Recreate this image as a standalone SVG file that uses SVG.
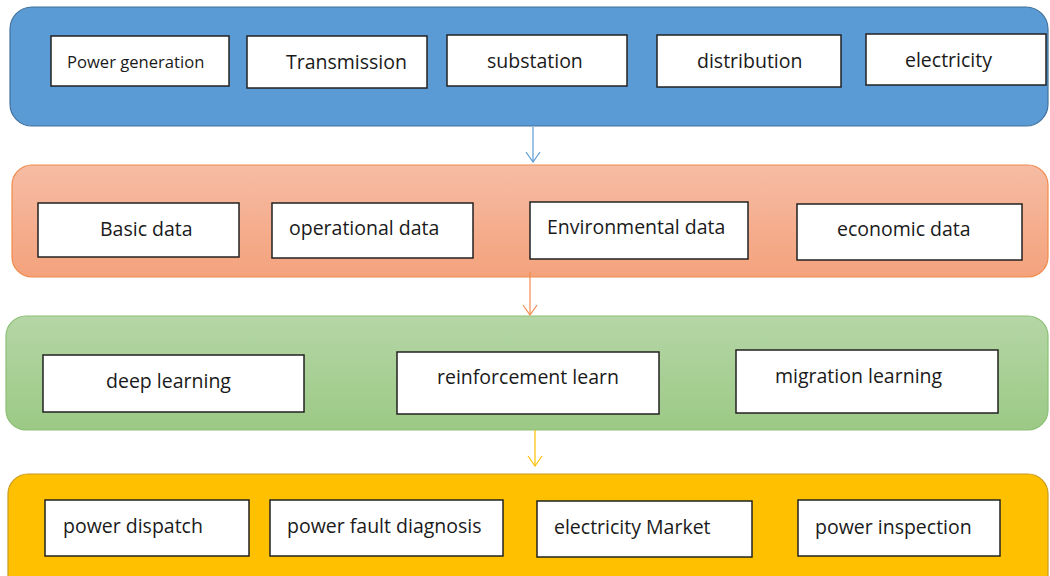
<svg xmlns="http://www.w3.org/2000/svg" width="1050" height="576" viewBox="0 0 1050 576">
<defs>
<linearGradient id="gOrange" x1="0" y1="0" x2="0" y2="1"><stop offset="0" stop-color="#f6bca4"/><stop offset="1" stop-color="#f4a27c"/></linearGradient>
<linearGradient id="gGreen" x1="0" y1="0" x2="0" y2="1"><stop offset="0" stop-color="#b5d6a6"/><stop offset="1" stop-color="#9cc985"/></linearGradient>
<marker id="arB" viewBox="0 0 16 12" refX="8" refY="11" markerWidth="16" markerHeight="12" markerUnits="userSpaceOnUse"><path d="M1,1 L8,11 L15,1" fill="none" stroke="#5b9bd5" stroke-width="1.2"/></marker>
<marker id="arO" viewBox="0 0 16 12" refX="8" refY="11" markerWidth="16" markerHeight="12" markerUnits="userSpaceOnUse"><path d="M1,1 L8,11 L15,1" fill="none" stroke="#f08a4a" stroke-width="1.2"/></marker>
<marker id="arY" viewBox="0 0 16 12" refX="8" refY="11" markerWidth="16" markerHeight="12" markerUnits="userSpaceOnUse"><path d="M1,1 L8,11 L15,1" fill="none" stroke="#ffc000" stroke-width="1.2"/></marker>
</defs>
<style>
.box{fill:#ffffff;stroke:#222222;stroke-width:1.5}
.t{font-family:"Open Sans","Liberation Sans",sans-serif;font-size:19.5px;fill:#1a1a1a}
</style>
<g id="layer1">
<rect x="10" y="7" width="1038" height="119" rx="22" fill="#5b9bd5" stroke="#41719c" stroke-width="1.2"/>
<g id="n-power-generation"><rect class="box" x="51" y="36" width="178" height="50"/><text class="t" x="67" y="68" style="font-size:16.6px">Power generation</text></g>
<g id="n-transmission"><rect class="box" x="247" y="36" width="180" height="52"/><text class="t" x="286" y="69">Transmission</text></g>
<g id="n-substation"><rect class="box" x="447" y="35" width="180" height="51"/><text class="t" x="487" y="68">substation</text></g>
<g id="n-distribution"><rect class="box" x="657" y="35" width="184" height="52"/><text class="t" x="697" y="68">distribution</text></g>
<g id="n-electricity"><rect class="box" x="866" y="34" width="180" height="51"/><text class="t" x="905" y="67">electricity</text></g>
</g>
<g id="layer2">
<rect x="12" y="165" width="1036" height="112" rx="20" fill="url(#gOrange)" stroke="#f08a4a" stroke-width="1.2"/>
<g id="n-basic-data"><rect class="box" x="38" y="203" width="201" height="54"/><text class="t" x="100" y="236">Basic data</text></g>
<g id="n-operational-data"><rect class="box" x="272" y="203" width="201" height="55"/><text class="t" x="289" y="235">operational data</text></g>
<g id="n-environmental-data"><rect class="box" x="530" y="202" width="218" height="57"/><text class="t" x="547" y="234">Environmental data</text></g>
<g id="n-economic-data"><rect class="box" x="797" y="204" width="225" height="56"/><text class="t" x="837" y="236">economic data</text></g>
</g>
<g id="layer3">
<rect x="6" y="316" width="1042" height="114" rx="20" fill="url(#gGreen)" stroke="#8cbf74" stroke-width="1.2"/>
<g id="n-deep-learning"><rect class="box" x="43" y="355" width="261" height="57"/><text class="t" x="106" y="388">deep learning</text></g>
<g id="n-reinforcement-learn"><rect class="box" x="397" y="352" width="262" height="62"/><text class="t" x="437" y="384">reinforcement learn</text></g>
<g id="n-migration-learning"><rect class="box" x="736" y="350" width="262" height="63"/><text class="t" x="775" y="383">migration learning</text></g>
</g>
<g id="layer4">
<rect x="8" y="474" width="1040" height="120" rx="20" fill="#ffc000" stroke="#c99a1e" stroke-width="1.2"/>
<g id="n-power-dispatch"><rect class="box" x="45" y="500" width="204" height="56"/><text class="t" x="63" y="533">power dispatch</text></g>
<g id="n-power-fault-diagnosis"><rect class="box" x="270" y="500" width="233" height="56"/><text class="t" x="287" y="533">power fault diagnosis</text></g>
<g id="n-electricity-market"><rect class="box" x="537" y="501" width="215" height="56"/><text class="t" x="554" y="534">electricity Market</text></g>
<g id="n-power-inspection"><rect class="box" x="798" y="500" width="202" height="56"/><text class="t" x="815" y="534">power inspection</text></g>
</g>
<g id="connectors" fill="none" stroke-width="1.2">
<line x1="533" y1="127" x2="533" y2="162" stroke="#5b9bd5" marker-end="url(#arB)"/>
<line x1="530" y1="272" x2="530" y2="315" stroke="#f08a4a" marker-end="url(#arO)"/>
<line x1="535" y1="430" x2="535" y2="466" stroke="#ffc000" marker-end="url(#arY)"/>
</g>
</svg>
